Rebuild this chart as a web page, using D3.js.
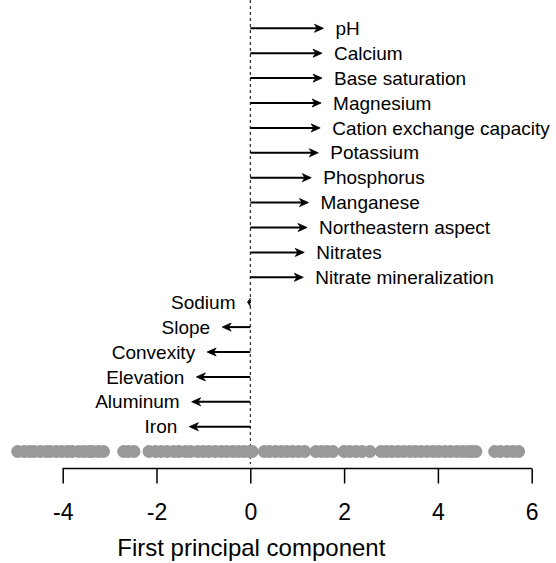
<!DOCTYPE html>
<html>
<head>
<meta charset="utf-8">
<script src="https://cdn.jsdelivr.net/npm/d3@7"></script>
<style>
  html, body { margin: 0; padding: 0; background: #fff; }
  svg { display: block; font-family: "Liberation Sans", Arial, sans-serif; }
</style>
</head>
<body>
<svg id="chart" width="556" height="563"></svg>
<script>
// ---- data ----
const variables = ["pH", "Calcium", "Base saturation", "Magnesium", "Cation exchange capacity",
  "Potassium", "Phosphorus", "Manganese", "Northeastern aspect", "Nitrates",
  "Nitrate mineralization", "Sodium", "Slope", "Convexity", "Elevation", "Aluminum", "Iron"];
const loadings = [1.56, 1.53, 1.53, 1.51, 1.49, 1.45, 1.30, 1.24, 1.21, 1.15, 1.13,
  -0.06, -0.60, -0.92, -1.15, -1.25, -1.30];
const scores = [
  -4.96, -4.82, -4.70, -4.61, -4.48, -4.35, -4.27, -4.14, -4.02, -3.90, -3.80, -3.66, -3.55, -3.44, -3.36, -3.24, -3.13,
  -2.70, -2.60, -2.48,
  -2.16, -2.02, -1.90, -1.77, -1.63, -1.52, -1.38, -1.27, -1.12, -1.00, -0.88, -0.75, -0.62, -0.50, -0.37, -0.25, -0.14, -0.02,
  0.04, 0.30, 0.41, 0.54, 0.66, 0.78, 0.90, 1.03, 1.16, 1.40, 1.52, 1.64, 1.76, 2.00, 2.12, 2.25, 2.38, 2.55,
  2.79, 2.90, 3.02, 3.15, 3.27, 3.40, 3.52, 3.64, 3.77, 3.90, 4.02, 4.15, 4.27, 4.40, 4.52, 4.63, 4.72, 4.81,
  5.21, 5.33, 5.47, 5.60, 5.72
];
const xTicks = [-4, -2, 0, 2, 4, 6];
const xTitle = "First principal component";

// ---- scales ----
const svg = d3.select("#chart");
const x = d3.scaleLinear().domain([-4, 6]).range([62.7, 531.7]);
const y = d3.scalePoint().domain(variables).range([28.3, 426.7]);
const stripY = 451.5;
const axisY = 468.5;

// dashed zero line
svg.append("line")
  .attr("x1", x(0)).attr("x2", x(0))
  .attr("y1", 0).attr("y2", 464)
  .attr("stroke", "#000").attr("stroke-width", 1)
  .attr("stroke-dasharray", "3,3");

// points
svg.append("g").selectAll("circle").data(scores).join("circle")
  .attr("cx", d => x(d)).attr("cy", stripY).attr("r", 6.5)
  .attr("fill", "#999999");

// arrows
const arrows = variables.map((v, i) => ({ name: v, val: loadings[i] }));
const ag = svg.append("g");
arrows.forEach(a => {
  const x0 = x(0), x1 = x(a.val), yy = y(a.name);
  const dir = a.val >= 0 ? 1 : -1;
  const headLen = 9, headW = 4;
  const len = Math.abs(x1 - x0);
  const hl = Math.min(headLen, len);
  ag.append("line")
    .attr("x1", x0).attr("x2", x1 - dir * hl * 0.6)
    .attr("y1", yy).attr("y2", yy)
    .attr("stroke", "#000").attr("stroke-width", 2);
  ag.append("path")
    .attr("d", `M${x1},${yy} L${x1 - dir * hl},${yy - headW} L${x1 - dir * hl * 0.7},${yy} L${x1 - dir * hl},${yy + headW} Z`)
    .attr("fill", "#000").attr("stroke", "#000").attr("stroke-width", 0.8).attr("stroke-linejoin", "miter");
  ag.append("text")
    .attr("x", x1 + dir * 12)
    .attr("y", yy)
    .attr("dy", "0.35em")
    .attr("text-anchor", dir > 0 ? "start" : "end")
    .attr("font-size", 19)
    .attr("fill", "#000")
    .text(a.name);
});

// axis
const axis = d3.axisBottom(x).tickValues(xTicks).tickSize(15).tickPadding(20)
  .tickFormat(d => d < 0 ? "-" + Math.abs(d) : String(d));
const gx = svg.append("g").attr("transform", `translate(0,${axisY})`).call(axis);
gx.select(".domain").attr("stroke", "#000").attr("stroke-width", 1.5)
  .attr("d", `M${x(-4)},0H${x(6)}`);
gx.selectAll(".tick line").attr("stroke", "#000").attr("stroke-width", 1.5);
gx.selectAll(".tick text").attr("font-size", 23).attr("fill", "#000")
  .attr("font-family", "Liberation Sans, Arial, sans-serif");

svg.append("text")
  .attr("x", x(0) + 1)
  .attr("y", 556)
  .attr("text-anchor", "middle")
  .attr("font-size", 24)
  .attr("fill", "#000")
  .text(xTitle);
</script>
</body>
</html>
